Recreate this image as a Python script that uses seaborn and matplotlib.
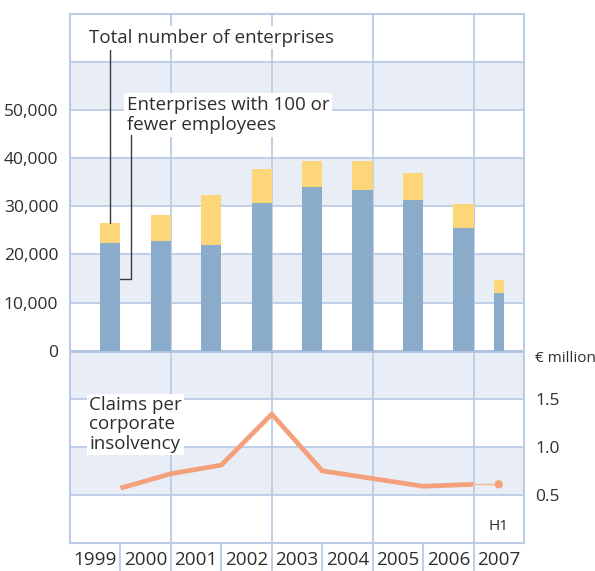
import matplotlib
matplotlib.use("Agg")
import matplotlib.pyplot as plt
import matplotlib.transforms as mtransforms
import numpy as np
import pandas as pd
import seaborn as sns

# ---- data -------------------------------------------------------------
years = [1999, 2000, 2001, 2002, 2003, 2004, 2005, 2006, 2007]
year_labels = ["1999", "2000", "2001", "2002", "2003", "2004", "2005", "2006", "2007"]
periods = ["year", "year", "year", "year", "year", "year", "year", "year", "H1"]
total_enterprises = [26500, 28300, 32300, 37700, 39400, 39400, 36900, 30500, 14600]
small_enterprises = [22300, 22900, 21900, 30600, 34000, 33300, 31250, 25600, 11950]
claims_per_insolvency = [0.57, 0.72, 0.81, 1.34, 0.75, 0.67, 0.59, 0.61, 0.61]

enterprise_ticks = [0, 10000, 20000, 30000, 40000, 50000]
claims_ticks = [0.5, 1.0, 1.5]

# ---- style ------------------------------------------------------------
sns.set_style("white")
plt.rcParams["font.family"] = ["Open Sans", "DejaVu Sans"]

BAR_BLUE = "#8AACCA"
BAR_YELLOW = "#FDD67A"
BAND = "#E9EEF6"
GRID = "#BACCE6"
LINE = "#F4A07A"
LINE_THIN = "#F7B895"
TEXT = "#2E2E2E"
FS = 12.5
FS_NOTE = 13.5

df = pd.DataFrame({
    "year": years,
    "period": periods,
    "total": total_enterprises,
    "small": small_enterprises,
    "claims": claims_per_insolvency,
})
half = df["period"] == "H1"
# bars sit in the right part of each year slot; a half-year bar sits mid-slot
df["bar_x"] = np.where(half, df["year"], df["year"] + 0.3)
# claims are measured at the end of each period
df["point_x"] = np.where(half, df["year"], df["year"] + 0.5)

fig = plt.figure(figsize=(5.95, 5.71), dpi=100)
ax = fig.add_axes([70 / 595, 28 / 571, 454 / 595, 529 / 571])

# alternating row bands and grid
for lo in range(-30000, 60000, 20000):
    ax.axhspan(lo, lo + 10000, color=BAND, lw=0, zorder=0)
for y in range(-30000, 70000, 10000):
    ax.axhline(y, color=GRID, lw=1.3, zorder=0.5)
ax.axhline(0, color="#AFC3E0", lw=2.0, zorder=0.6)
for x in [2000.5, 2002.5, 2004.5, 2006.5]:
    ax.axvline(x, color=GRID, lw=1.3, zorder=0.5)

# stacked bars: total (yellow) with the small-enterprise share (blue) on top of it
full_df = df[~half]
half_df = df[half]
for sub, w in [(full_df, 0.4), (half_df, 0.2)]:
    sns.barplot(data=sub, x="bar_x", y="total", native_scale=True, orient="x",
                width=w, color=BAR_YELLOW, saturation=1, errorbar=None,
                linewidth=0, ax=ax, zorder=2)
    sns.barplot(data=sub, x="bar_x", y="small", native_scale=True, orient="x",
                width=w, color=BAR_BLUE, saturation=1, errorbar=None,
                linewidth=0, ax=ax, zorder=2.1)

ax.set_xlim(1998.5, 2007.5)
ax.set_ylim(-40000, 70000)
ax.set_xlabel("")
ax.set_ylabel("")

ax.set_yticks(enterprise_ticks)
ax.set_yticklabels([f"{v:,}" for v in enterprise_ticks])
ax.set_xticks(years)
ax.set_xticklabels(year_labels)
ax.tick_params(axis="both", length=0, labelcolor=TEXT)
ax.tick_params(axis="y", pad=8.5, labelsize=FS)
ax.tick_params(axis="x", pad=6, labelsize=13.6)

for side in ["top", "bottom", "left", "right"]:
    ax.spines[side].set_color(GRID)
    ax.spines[side].set_linewidth(1.5)

# year separators below the frame
sep_tr = mtransforms.blended_transform_factory(ax.transData, ax.transAxes)
for b in [yr + 0.5 for yr in years[:-1]]:
    ax.plot([b, b], [0, -30 / 529], transform=sep_tr, clip_on=False,
            color=GRID, lw=1.3)

# annotations
ax.text(1998.88, 65100, "Total number of enterprises", fontsize=FS_NOTE, color=TEXT,
        va="center", ha="left", zorder=3,
        bbox=dict(boxstyle="square,pad=0.15", fc="white", ec="none"))
ax.plot([1999.3, 1999.3], [62600, total_enterprises[0]], color="#3A3A3A", lw=1.0, zorder=4)

ax.text(1999.63, 49000, "Enterprises with 100 or\nfewer employees", fontsize=FS_NOTE,
        color=TEXT, va="center", ha="left", linespacing=1.2, zorder=3,
        bbox=dict(boxstyle="square,pad=0.15", fc="white", ec="none"))
ax.plot([1999.70, 1999.70, 1999.5], [44900, 15000, 15000], color="#3A3A3A",
        lw=1.0, zorder=4)

ax.text(1998.88, -15300, "Claims per\ncorporate\ninsolvency", fontsize=FS_NOTE,
        color=TEXT, va="center", ha="left", linespacing=1.1, zorder=3,
        bbox=dict(boxstyle="square,pad=0.12", fc="white", ec="none"))

ax.text(2007.0, -36600, "H1", fontsize=11, color=TEXT, ha="center", va="center")

# claims line on its own scale
ax2 = ax.twinx()
sns.lineplot(data=df[~half], x="point_x", y="claims", ax=ax2, color=LINE,
             lw=3.4, solid_capstyle="butt")
sns.lineplot(data=df.iloc[-2:], x="point_x", y="claims", ax=ax2, color=LINE_THIN,
             lw=1.0)
sns.scatterplot(data=df[half], x="point_x", y="claims", ax=ax2, color=LINE,
                s=36, edgecolor="none", zorder=5)
ax2.set_ylim(0, 5.5)
ax2.set_xlim(1998.5, 2007.5)
ax2.set_yticks(claims_ticks)
ax2.set_yticklabels([f"{v:.1f}" for v in claims_ticks])
ax2.tick_params(axis="y", length=0, labelsize=FS, labelcolor=TEXT, pad=8)
ax2.set_xlabel("")
ax2.set_ylabel("")
for side in ax2.spines:
    ax2.spines[side].set_visible(False)
ax2.annotate("€ million", xy=(1, 1.92), xycoords=("axes fraction", "data"),
             xytext=(8, 0), textcoords="offset points", va="center", ha="left",
             fontsize=11, color=TEXT, annotation_clip=False)

fig.savefig("out.png", dpi=100)
